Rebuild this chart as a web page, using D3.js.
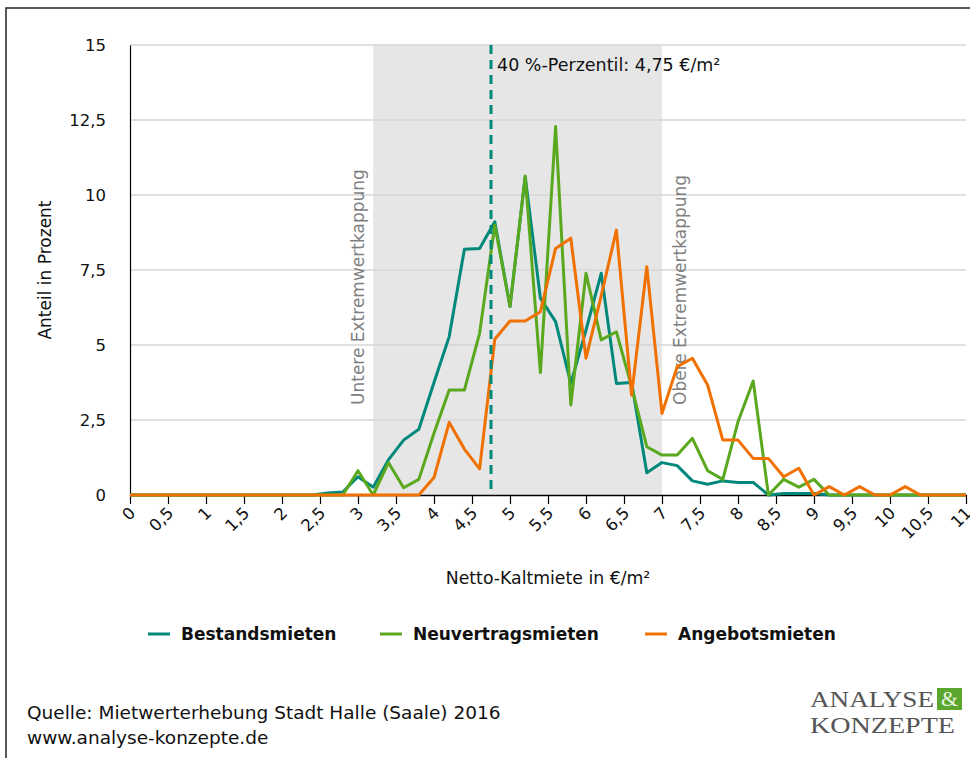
<!DOCTYPE html>
<html><head><meta charset="utf-8">
<script src="https://cdn.jsdelivr.net/npm/d3@7"></script>
<style>body{margin:0;background:#fff}svg{display:block}</style>
</head><body>
<script>
// x positions (€/m²), step 0.2 from 0 to 11 (56 points)
const xValues = d3.range(0, 56).map(i => +(i * 0.2).toFixed(1));
const seriesNames = ["Bestandsmieten", "Neuvertragsmieten", "Angebotsmieten"];
const seriesColors = ["#00897b", "#5aa81e", "#f07000"];
// values in percent, one per xValue
const bestand = [0,0,0,0,0,0,0,0,0,0,0,0,0,
  0.07,0.1,0.61,0.26,1.17,1.83,2.19,3.75,5.28,8.19,8.22,9.11,6.28,10.61,6.56,5.78,3.72,5.5,7.39,3.72,3.75,0.74,1.08,0.98,0.47,0.36,0.47,0.42,0.42,0,0.05,0.05,0.05,0,
  0,0,0,0,0,0,0,0,0];
const neuvertrag = [0,0,0,0,0,0,0,0,0,0,0,0,0,
  0,0,0.81,0,1.08,0.24,0.52,2.06,3.5,3.5,5.39,9.0,6.28,10.63,4.08,12.28,3.0,7.39,5.17,5.44,3.61,1.61,1.33,1.33,1.89,0.81,0.52,2.44,3.8,0,0.52,0.26,0.52,0,
  0,0,0,0,0,0,0,0,0];
const angebot = [0,0,0,0,0,0,0,0,0,0,0,0,0,
  0,0,0,0,0,0,0,0.58,2.42,1.53,0.87,5.19,5.8,5.8,6.11,8.22,8.56,4.56,6.64,8.83,3.33,7.61,2.72,4.28,4.56,3.67,1.83,1.83,1.22,1.22,0.61,0.89,0,0.28,
  0,0.28,0,0,0.28,0,0,0,0];
const xTicks = d3.range(0, 23).map(i => i * 0.5);
const yTicks = [0, 2.5, 5, 7.5, 10, 12.5, 15];
const percentile = 4.75;
const capLower = 3.2, capUpper = 7.0;
const fmt = v => String(v).replace(".", ",");

const FONT = "'DejaVu Sans', Verdana, sans-serif";
const SERIF = "'Liberation Serif', 'DejaVu Serif', serif";
const W = 970, H = 758;
const svg = d3.select("body").append("svg").attr("width", W).attr("height", H)
  .style("font-family", FONT);
// frame
svg.append("path").attr("d", `M6,${H+2} L6,8 L${W+2},8`).attr("fill","none").attr("stroke","#222").attr("stroke-width",1.5);

const x = d3.scaleLinear().domain([0, 11]).range([130, 966]);
const y = d3.scaleLinear().domain([0, 15]).range([495, 45]);

// shaded cap region
svg.append("rect").attr("x", x(capLower)).attr("y", y(15)).attr("width", x(capUpper) - x(capLower)).attr("height", y(0) - y(15)).attr("fill", "#e6e6e6");

// gridlines
svg.append("g").selectAll("line").data(yTicks.filter(d => d > 0)).join("line")
  .attr("x1", x(0)).attr("x2", x(11)).attr("y1", d => y(d)).attr("y2", d => y(d))
  .attr("stroke", "#d6d6d6").attr("stroke-width", 1.5);

// rotated cap labels
svg.append("text").attr("transform", `translate(${x(capLower)-9},405) rotate(-90)`)
  .attr("font-size", 17).attr("fill", "#7f7f7f").text("Untere Extremwertkappung");
svg.append("text").attr("transform", `translate(${x(capUpper)+24},405) rotate(-90)`)
  .attr("font-size", 17).attr("fill", "#7f7f7f").text("Obere Extremwertkappung");

// y axis
const yAxis = svg.append("g").attr("transform", `translate(${x(0)},0)`)
  .call(d3.axisLeft(y).tickValues(yTicks).tickFormat(fmt).tickSize(0).tickPadding(24));
yAxis.select(".domain").attr("stroke", "#000").attr("stroke-width", 1.2);
yAxis.selectAll("text").attr("font-size", 16.5).attr("fill", "#111").style("font-family", FONT);

// x axis
const xAxis = svg.append("g").attr("transform", `translate(0,${y(0)})`)
  .call(d3.axisBottom(x).tickValues(xTicks).tickFormat(fmt).tickSize(9).tickSizeOuter(0));
xAxis.select(".domain").attr("stroke", "#000").attr("stroke-width", 1.5);
xAxis.selectAll(".tick line").attr("stroke", "#000").attr("stroke-width", 1.2);
xAxis.selectAll("text").attr("font-size", 16.5).attr("fill", "#111").style("font-family", FONT)
  .attr("text-anchor", "end").attr("dy", null).attr("y", 0)
  .attr("transform", "translate(6,19) rotate(-45)");

// series lines
const data = [bestand, neuvertrag, angebot];
const line = d3.line().x((d, i) => x(xValues[i])).y(d => y(d));
[0, 1, 2].forEach(k => {
  svg.append("path").datum(data[k]).attr("d", line).attr("fill", "none")
    .attr("stroke", seriesColors[k]).attr("stroke-width", 3).attr("stroke-linejoin", "round");
});

// percentile line
svg.append("line").attr("x1", x(percentile)).attr("x2", x(percentile)).attr("y1", y(15)).attr("y2", y(0))
  .attr("stroke", "#00897b").attr("stroke-width", 3).attr("stroke-dasharray", "9,6");
svg.append("text").attr("x", x(percentile) + 6).attr("y", 71).attr("font-size", 17.5).attr("fill", "#111")
  .text("40 %-Perzentil: 4,75 €/m²");

// axis titles
svg.append("text").attr("transform", "translate(51,270) rotate(-90)").attr("text-anchor", "middle")
  .attr("font-size", 17).attr("fill", "#111").text("Anteil in Prozent");
svg.append("text").attr("x", 548).attr("y", 584).attr("text-anchor", "middle")
  .attr("font-size", 17.3).attr("fill", "#111").text("Netto-Kaltmiete in €/m²");

// legend
const legendX = [148, 380, 645];
seriesNames.forEach((n, k) => {
  svg.append("line").attr("x1", legendX[k]).attr("x2", legendX[k] + 22).attr("y1", 634).attr("y2", 634)
    .attr("stroke", seriesColors[k]).attr("stroke-width", 3);
  svg.append("text").attr("x", legendX[k] + 33).attr("y", 640).attr("font-size", 17).attr("font-weight", "bold")
    .attr("fill", "#111").text(n);
});

// footer
svg.append("text").attr("x", 27).attr("y", 719).attr("font-size", 18.5).attr("fill", "#111")
  .text("Quelle: Mietwerterhebung Stadt Halle (Saale) 2016");
svg.append("text").attr("x", 27).attr("y", 744).attr("font-size", 18.5).attr("fill", "#111")
  .text("www.analyse-konzepte.de");

// logo
const logo = svg.append("g").style("font-family", SERIF).attr("fill", "#555");
logo.append("text").attr("x", 810).attr("y", 707).attr("font-size", 24)
  .attr("textLength", 124).attr("lengthAdjust", "spacingAndGlyphs").text("ANALYSE");
logo.append("rect").attr("x", 937).attr("y", 688).attr("width", 25).attr("height", 22).attr("fill", "#5aa62e");
logo.append("text").attr("x", 949.5).attr("y", 706).attr("text-anchor", "middle").attr("font-size", 22).attr("fill", "#e8f5e0").text("&");
logo.append("text").attr("x", 810).attr("y", 733).attr("font-size", 24)
  .attr("textLength", 145).attr("lengthAdjust", "spacingAndGlyphs").text("KONZEPTE");
</script>
</body></html>
